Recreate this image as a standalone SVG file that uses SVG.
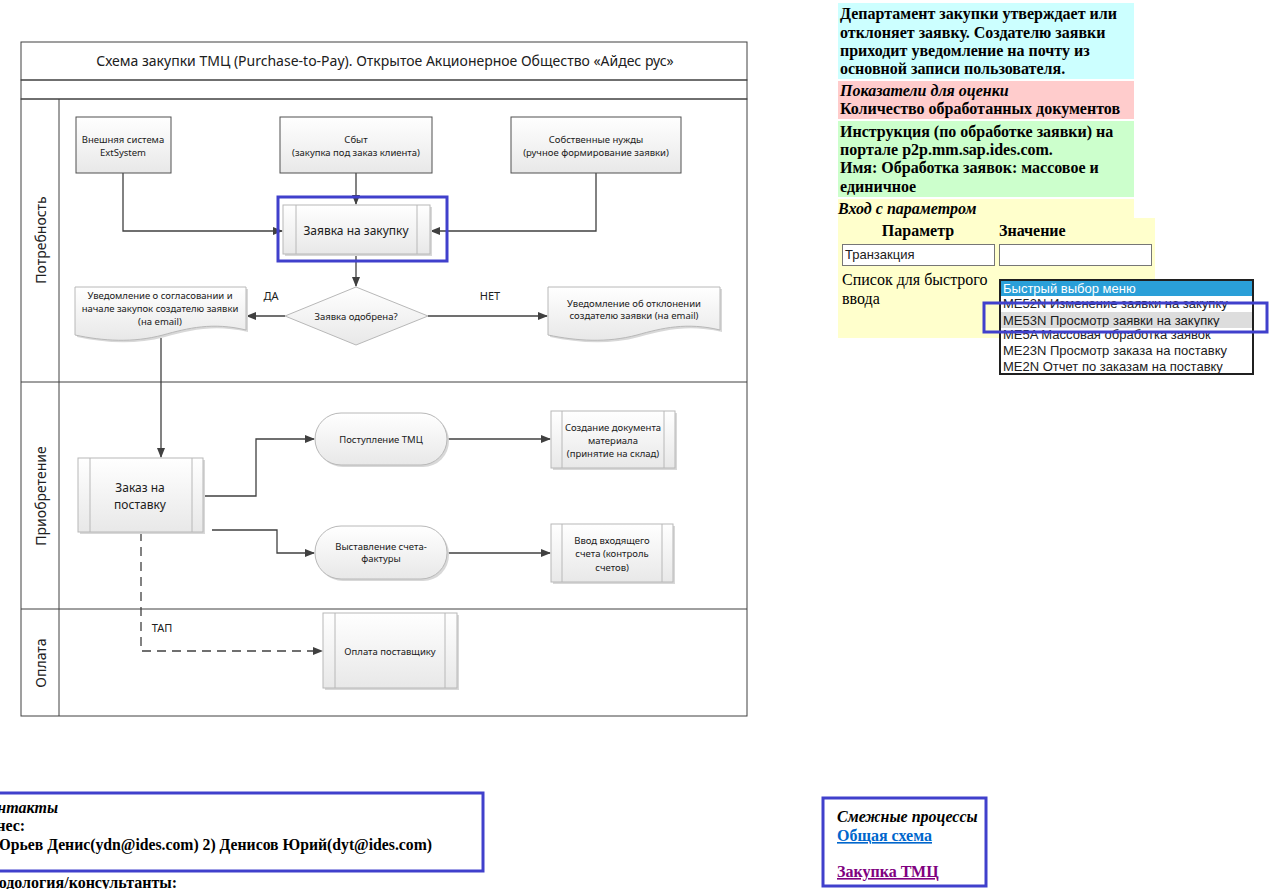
<svg xmlns="http://www.w3.org/2000/svg" width="1273" height="889" viewBox="0 0 1273 889">
<defs>
<linearGradient id="gFill" x1="0" y1="0" x2="0" y2="1">
<stop offset="0" stop-color="#ffffff"/>
<stop offset="1" stop-color="#e8e8e8"/>
</linearGradient>
<linearGradient id="gBand" x1="0" y1="0" x2="0" y2="1">
<stop offset="0" stop-color="#fbfbfb"/>
<stop offset="1" stop-color="#eeeeee"/>
</linearGradient>
<marker id="arr" markerWidth="10" markerHeight="8" refX="9" refY="4" orient="auto" markerUnits="userSpaceOnUse">
<path d="M0,0 L10,4 L0,8 Z" fill="#404040"/>
</marker>
</defs>
<style>
.lane{fill:none;stroke:#404040;stroke-width:1}
.src{fill:url(#gFill);stroke:#505050;stroke-width:1}
.proc{fill:url(#gFill);stroke:#b8b8b8;stroke-width:1}
.shadow{fill:#d8d8d8}
.inner{stroke:#b8b8b8;stroke-width:1;fill:none}
.t{font-family:"Noto Sans","Open Sans",sans-serif;fill:#202020;text-anchor:middle}
.s10{font-size:9.5px}
.s12{font-size:12px}
.s11{font-size:11px}
.s14{font-size:14px}
.conn{fill:none;stroke:#404040;stroke-width:1.3}
.dash{stroke-dasharray:9,6}
.hl{fill:none;stroke:#4040cc;stroke-width:3}
.ser{font-family:"Liberation Serif","Times New Roman",serif;font-size:16px;fill:#000}
.b{font-weight:bold}
.i{font-style:italic}
.ar{font-family:"Liberation Sans",Arial,sans-serif;font-size:13px;fill:#202020}
</style>
<rect width="1273" height="889" fill="#ffffff"/>

<g id="pool">
<rect x="21" y="42" width="726" height="38" fill="url(#gBand)" class="lane"/>
<rect x="21" y="80" width="726" height="19" fill="url(#gBand)" class="lane"/>
<rect x="21" y="99" width="726" height="617" class="lane"/>
<line x1="59" y1="99" x2="59" y2="716" class="lane"/>
<line x1="21" y1="382" x2="747" y2="382" class="lane"/>
<line x1="21" y1="609" x2="747" y2="609" class="lane"/>
<text class="t s14" x="385" y="66">Схема закупки ТМЦ (Purchase-to-Pay). Открытое Акционерное Общество «Айдес рус»</text>
<text class="t s14" transform="translate(40,240) rotate(-90)" dominant-baseline="central">Потребность</text>
<text class="t s14" transform="translate(40,496) rotate(-90)" dominant-baseline="central">Приобретение</text>
<text class="t s14" transform="translate(40,663) rotate(-90)" dominant-baseline="central">Оплата</text>
</g>

<g id="connectors">
<path class="conn" d="M123,173 V231 H282" marker-end="url(#arr)"/>
<path class="conn" d="M356,173 V204" marker-end="url(#arr)"/>
<path class="conn" d="M596,173 V231 H431" marker-end="url(#arr)"/>
<path class="conn" d="M356,254 V286" marker-end="url(#arr)"/>
<path class="conn" d="M285,316 H247" marker-end="url(#arr)"/>
<path class="conn" d="M428,316 H547" marker-end="url(#arr)"/>
<path class="conn" d="M161,338 V457" marker-end="url(#arr)"/>
<path class="conn" d="M203,496 H256 V439 H314" marker-end="url(#arr)"/>
<path class="conn" d="M212,530 H277 V553 H314" marker-end="url(#arr)"/>
<path class="conn" d="M447,439 H550" marker-end="url(#arr)"/>
<path class="conn" d="M447,553 H550" marker-end="url(#arr)"/>
<path class="conn dash" d="M141,532 V651 H322" marker-end="url(#arr)"/>
<text class="t s11" x="271" y="300">ДА</text>
<text class="t s11" x="490" y="300">НЕТ</text>
<text class="t s11" x="162" y="632">ТАП</text>
</g>

<g id="n-ext">
<rect x="76" y="117" width="95" height="56" class="src"/>
<text class="t s10" x="123" y="143">Внешняя система</text>
<text class="t s10" x="123" y="156">ExtSystem</text>
</g>
<g id="n-sales">
<rect x="280" y="117" width="152" height="56" class="src"/>
<text class="t s10" x="356" y="143">Сбыт</text>
<text class="t s10" x="356" y="156">(закупка под заказ клиента)</text>
</g>
<g id="n-own">
<rect x="511" y="117" width="170" height="56" class="src"/>
<text class="t s10" x="596" y="143">Собственные нужды</text>
<text class="t s10" x="596" y="156">(ручное формирование заявки)</text>
</g>
<g id="n-req">
<rect x="285" y="207" width="147" height="49" class="shadow"/>
<rect x="283" y="205" width="147" height="49" class="proc"/>
<line x1="296" y1="205" x2="296" y2="254" class="inner"/>
<line x1="417" y1="205" x2="417" y2="254" class="inner"/>
<text class="t s12" x="356" y="235">Заявка на закупку</text>
<rect x="278" y="197" width="169" height="64" class="hl"/>
</g>
<g id="n-dec">
<polygon points="356,287 428,316 356,345 285,316" class="proc"/>
<text class="t s10" x="356" y="320">Заявка одобрена?</text>
</g>
<g id="n-docyes">
<path d="M77,289 H248 V332 C215,324 190,330 165,337 C135,345 105,343 77,337 Z" class="shadow"/>
<path d="M75,287 H246 V330 C213,322 188,328 163,335 C133,343 103,341 75,335 Z" class="proc"/>
<text class="t s10" x="160" y="299">Уведомление о согласовании и</text>
<text class="t s10" x="160" y="312">начале закупок создателю заявки</text>
<text class="t s10" x="160" y="325">(на email)</text>
</g>
<g id="n-docno">
<path d="M550,289 H722 V332 C689,324 664,330 639,337 C609,345 579,343 550,337 Z" class="shadow"/>
<path d="M548,287 H720 V330 C687,322 662,328 637,335 C607,343 577,341 548,335 Z" class="proc"/>
<text class="t s10" x="634" y="307">Уведомление об отклонении</text>
<text class="t s10" x="634" y="319">создателю заявки (на email)</text>
</g>
<g id="n-po">
<rect x="80" y="460" width="125" height="74" class="shadow"/>
<rect x="78" y="458" width="125" height="74" class="proc"/>
<line x1="90" y1="458" x2="90" y2="532" class="inner"/>
<line x1="192" y1="458" x2="192" y2="532" class="inner"/>
<text class="t s12" x="140" y="492">Заказ на</text>
<text class="t s12" x="140" y="509">поставку</text>
</g>
<g id="n-gr">
<rect x="317" y="415" width="132" height="52" rx="26" class="shadow"/>
<rect x="315" y="413" width="132" height="52" rx="26" class="proc"/>
<text class="t s10" x="381" y="443">Поступление ТМЦ</text>
</g>
<g id="n-inv">
<rect x="317" y="528" width="132" height="53" rx="26" class="shadow"/>
<rect x="315" y="526" width="132" height="53" rx="26" class="proc"/>
<text class="t s10" x="381" y="550">Выставление счета-</text>
<text class="t s10" x="381" y="562">фактуры</text>
</g>
<g id="n-matdoc">
<rect x="553" y="413" width="124" height="57" class="shadow"/>
<rect x="551" y="411" width="124" height="57" class="proc"/>
<line x1="562" y1="411" x2="562" y2="468" class="inner"/>
<line x1="664" y1="411" x2="664" y2="468" class="inner"/>
<text class="t s10" x="613" y="431">Создание документа</text>
<text class="t s10" x="613" y="444">материала</text>
<text class="t s10" x="613" y="457">(принятие на склад)</text>
</g>
<g id="n-invin">
<rect x="553" y="526" width="122" height="58" class="shadow"/>
<rect x="551" y="524" width="122" height="58" class="proc"/>
<line x1="562" y1="524" x2="562" y2="582" class="inner"/>
<line x1="662" y1="524" x2="662" y2="582" class="inner"/>
<text class="t s10" x="612" y="544">Ввод входящего</text>
<text class="t s10" x="612" y="557">счета (контроль</text>
<text class="t s10" x="612" y="571">счетов)</text>
</g>
<g id="n-pay">
<rect x="325" y="615" width="134" height="75" class="shadow"/>
<rect x="323" y="613" width="134" height="75" class="proc"/>
<line x1="335" y1="613" x2="335" y2="688" class="inner"/>
<line x1="445" y1="613" x2="445" y2="688" class="inner"/>
<text class="t s10" x="390" y="655">Оплата поставщику</text>
</g>

<g id="info-panel">
<rect x="838" y="3" width="296" height="76" fill="#ccffff"/>
<text class="ser b" x="840" y="19">Департамент закупки утверждает или</text>
<text class="ser b" x="840" y="38">отклоняет заявку. Создателю заявки</text>
<text class="ser b" x="840" y="56">приходит уведомление на почту из</text>
<text class="ser b" x="840" y="74">основной записи пользователя.</text>
<rect x="838" y="81" width="296" height="38" fill="#ffcccc"/>
<text class="ser b i" x="840" y="96">Показатели для оценки</text>
<text class="ser b" x="840" y="114">Количество обработанных документов</text>
<rect x="838" y="121" width="296" height="76" fill="#ccffcc"/>
<text class="ser b" x="840" y="137">Инструкция (по обработке заявки) на</text>
<text class="ser b" x="840" y="155">портале p2p.mm.sap.ides.com.</text>
<text class="ser b" x="840" y="173">Имя: Обработка заявок: массовое и</text>
<text class="ser b" x="840" y="192">единичное</text>
<rect x="838" y="199" width="296" height="20" fill="#ffffcc"/>
<rect x="838" y="218" width="317" height="120" fill="#ffffcc"/>
<text class="ser b i" x="838" y="214">Вход с параметром</text>
<text class="ser b" x="918" y="236" text-anchor="middle">Параметр</text>
<text class="ser b" x="999" y="236">Значение</text>
<rect x="842.5" y="244.5" width="152" height="21" fill="#ffffff" stroke="#767676"/>
<text class="ar" x="845" y="259">Транзакция</text>
<rect x="999.5" y="244.5" width="152" height="21" fill="#ffffff" stroke="#767676"/>
<text class="ser" x="842" y="285">Список для быстрого</text>
<text class="ser" x="842" y="304">ввода</text>
<rect x="1000" y="280" width="253" height="94" fill="#ffffff" stroke="#202020" stroke-width="2"/>
<rect x="1001" y="281" width="251" height="15" fill="#2a9fd8"/>
<text class="ar" x="1003" y="293" style="fill:#ffffff">Быстрый выбор меню</text>
<text class="ar" x="1003" y="308">ME52N Изменение заявки на закупку</text>
<rect x="1001" y="312" width="251" height="15" fill="#dddddd"/>
<text class="ar" x="1003" y="325">ME53N Просмотр заявки на закупку</text>
<text class="ar" x="1003" y="339">ME5A Массовая обработка заявок</text>
<rect x="1001" y="327" width="251" height="1" fill="#dddddd"/>
<text class="ar" x="1003" y="355">ME23N Просмотр заказа на поставку</text>
<text class="ar" x="1003" y="371">ME2N Отчет по заказам на поставку</text>
<rect x="984" y="303" width="283" height="29" class="hl"/>
</g>

<g id="contacts">
<rect x="-10" y="793" width="493" height="78" class="hl"/>
<text class="ser b i" x="-21" y="813">Контакты</text>
<text class="ser b" x="-30" y="831">Бизнес:</text>
<text class="ser b" x="-24" y="850" textLength="456" lengthAdjust="spacingAndGlyphs">1) Юрьев Денис(ydn@ides.com) 2) Денисов Юрий(dyt@ides.com)</text>
<text class="ser b" x="-31" y="888">Методология/консультанты:</text>
</g>

<g id="related">
<rect x="823" y="798" width="163" height="88" class="hl"/>
<text class="ser b i" x="837" y="822">Смежные процессы</text>
<text class="ser b" x="837" y="841" style="fill:#0066cc" text-decoration="underline">Общая схема</text>
<text class="ser b" x="837" y="877" style="fill:#800080" text-decoration="underline">Закупка ТМЦ</text>
</g>
</svg>
